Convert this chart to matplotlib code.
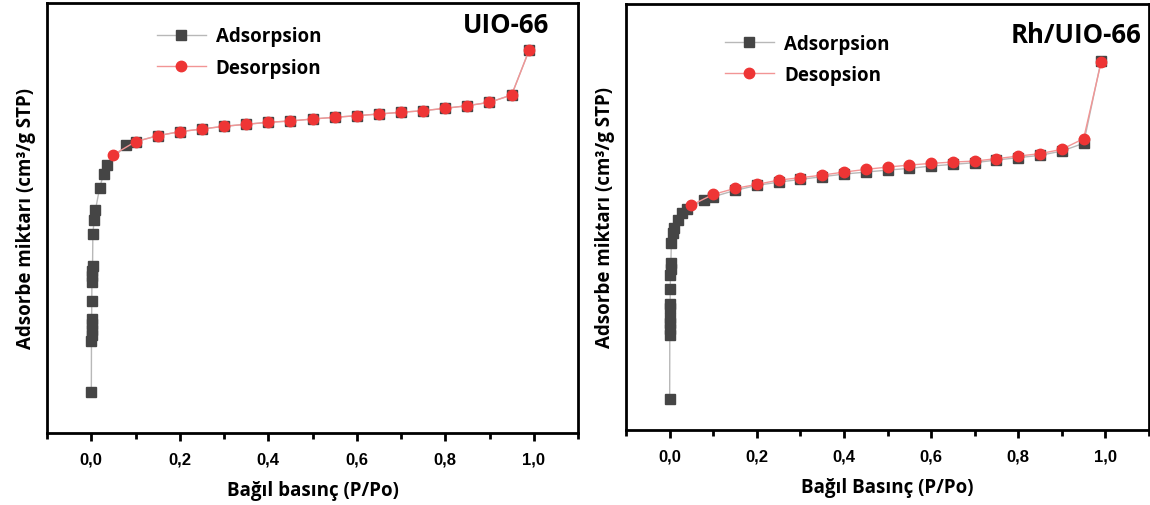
import matplotlib
matplotlib.use("Agg")
import matplotlib.pyplot as plt
from matplotlib.ticker import MultipleLocator, FuncFormatter

# UIO-66 adsorption / desorption (relative pressure, adsorbed amount - arbitrary units)
uio_ads_p = [0.0002, 0.0005, 0.0006, 0.0007, 0.0008, 0.0009, 0.0012, 0.0015, 0.002, 0.0025,
             0.003, 0.0036, 0.0066, 0.0095, 0.019, 0.028, 0.036, 0.079, 0.1, 0.15, 0.2, 0.25,
             0.3, 0.35, 0.4, 0.45, 0.5, 0.55, 0.6, 0.65, 0.7, 0.75, 0.8, 0.85, 0.9, 0.95, 0.99]
uio_ads_v = [40.7, 92.5, 98, 103.5, 109, 114.5, 132.3, 151.5, 156.8, 162.2,
             167.5, 199, 213.3, 223, 245.3, 259, 268.5, 288, 291.3, 297.3, 301.3, 304,
             306.7, 308.7, 310.7, 312, 314, 315.7, 317.3, 319, 320.7, 322.3, 324.7, 327.3, 330.7, 338, 383.3]
uio_des_p = [0.99, 0.95, 0.9, 0.85, 0.8, 0.75, 0.7, 0.65, 0.6, 0.55, 0.5, 0.45, 0.4,
             0.35, 0.3, 0.25, 0.2, 0.15, 0.1, 0.05]
uio_des_v = [383.3, 338, 330.7, 327.3, 324.7, 322.3, 320.7, 319, 317.3, 315.7, 314, 312, 310.7,
             308.7, 306.7, 304, 301.3, 297.3, 291.3, 278.3]

# Rh/UIO-66
rh_ads_p = [0.0002, 0.0005, 0.0006, 0.0007, 0.0008, 0.001, 0.0012, 0.0015, 0.002, 0.0025,
            0.003, 0.004, 0.008, 0.011, 0.019, 0.029, 0.04, 0.08, 0.1, 0.15, 0.2, 0.25, 0.3,
            0.35, 0.4, 0.45, 0.5, 0.55, 0.6, 0.65, 0.7, 0.75, 0.8, 0.85, 0.9, 0.95, 0.99]
rh_ads_v = [31, 95.2, 100.9, 106.5, 112.2, 121.8, 126.2, 141, 154.5, 160.3,
            166.2, 186.7, 196.7, 201.7, 210, 216.7, 220.7, 229.3, 232.7, 239, 244, 247.3, 250,
            252.7, 255.3, 257.3, 259.3, 261, 263.3, 265, 266.7, 269.3, 271.7, 274, 278.3, 286, 368.3]
rh_des_p = [0.99, 0.95, 0.9, 0.85, 0.8, 0.75, 0.7, 0.65, 0.6, 0.55, 0.5, 0.45, 0.4,
            0.35, 0.3, 0.25, 0.2, 0.15, 0.1, 0.05]
rh_des_v = [366.7, 290.7, 280, 275.7, 273.3, 270.7, 268.3, 267.3, 266, 264.3, 262.3, 260, 257.3,
            254.3, 251.7, 249.3, 245, 241, 235, 224.3]

x_ticks = [0.0, 0.2, 0.4, 0.6, 0.8, 1.0]

label_font = "Open Sans"
tick_font = "Liberation Sans"

fig = plt.figure(figsize=(11.5, 5.06), dpi=100)
ax1 = fig.add_axes([47 / 1150, 72 / 506, 531 / 1150, 430 / 506])
ax2 = fig.add_axes([626 / 1150, 75 / 506, 523 / 1150, 426 / 506])


def style(ax, ads_p, ads_v, des_p, des_v, des_label, title, ylim, xlabel, leg_pos, title_pos):
    ax.plot(ads_p, ads_v, color="#b8b8b8", lw=1.0, marker="s", ms=6.5,
            mfc="#454545", mec="#454545", label="Adsorpsion")
    ax.plot(des_p, des_v, color="#f29595", lw=1.0, marker="o", ms=7.5,
            mfc="#ee3535", mec="#ee3535", label=des_label)
    ax.set_xlim(-0.1, 1.1)
    ax.set_ylim(*ylim)
    ax.set_xticks(x_ticks)
    ax.xaxis.set_minor_locator(MultipleLocator(0.1))
    ax.xaxis.set_major_formatter(FuncFormatter(lambda v, p: f"{v:.1f}".replace(".", ",")))
    ax.set_yticks([])
    ax.tick_params(axis="x", which="major", direction="out", length=6, width=2, pad=7)
    ax.tick_params(axis="x", which="minor", direction="out", length=4, width=2)
    for lbl in ax.get_xticklabels():
        lbl.set_fontfamily(tick_font)
        lbl.set_fontweight("bold")
        lbl.set_fontsize(12)
    for s in ax.spines.values():
        s.set_linewidth(2)
    ax.set_xlabel(xlabel, fontfamily=label_font, fontweight="bold", fontsize=13.5, labelpad=10)
    ax.set_ylabel("Adsorbe miktarı (cm³/g STP)", fontfamily=label_font,
                  fontweight="bold", fontsize=13.5, labelpad=8)
    ax.legend(loc="upper left", bbox_to_anchor=leg_pos, frameon=False,
              prop={"family": label_font, "weight": "bold", "size": 13.5},
              handlelength=2.6, handletextpad=0.55, labelspacing=0.6)
    ax.text(title_pos[0], title_pos[1], title, transform=ax.transAxes, ha="right", va="center",
            fontfamily=label_font, fontweight="bold", fontsize=18.5)


style(ax1, uio_ads_p, uio_ads_v, uio_des_p, uio_des_v, "Desorpsion", "UIO-66",
      (0, 430), "Bağıl basınç (P/Po)", (0.175, 0.985), (0.945, 0.95))
style(ax2, rh_ads_p, rh_ads_v, rh_des_p, rh_des_v, "Desopsion", "Rh/UIO-66",
      (0, 425), "Bağıl Basınç (P/Po)", (0.157, 0.97), (0.985, 0.929))

fig.savefig("out.png", dpi=100)
